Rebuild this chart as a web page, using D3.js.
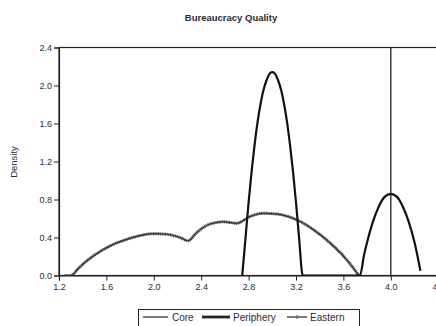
<!DOCTYPE html>
<html>
<head>
<meta charset="utf-8">
<script src="https://cdn.jsdelivr.net/npm/d3@7"></script>
<style>
  html, body { margin: 0; padding: 0; background: #fff; }
  svg { display: block; }
  text { font-family: "Liberation Sans", Arial, sans-serif; fill: #2b2b3a; }
</style>
</head>
<body>
<svg id="chart" width="436" height="326"></svg>
<script>
// Kernel density estimates of bureaucracy quality by country group
const title = "Bureaucracy Quality";
const yLabel = "Density";
const xTicks = [1.2, 1.6, 2.0, 2.4, 2.8, 3.2, 3.6, 4.0, 4.4];
const yTicks = [0.0, 0.4, 0.8, 1.2, 1.6, 2.0, 2.4];

const seriesNames = ["Core", "Periphery", "Eastern"];

// Core: every observation sits at 4.0, so the density is a spike
const coreX = [4.0, 4.0];
const coreY = [0.0, 2.4];

const peripheryX = [2.746, 2.775, 2.8, 2.825, 2.85, 2.875, 2.9, 2.925, 2.95, 2.975, 3.0,
  3.025, 3.05, 3.075, 3.1, 3.125, 3.15, 3.175, 3.2, 3.225, 3.257,
  3.5, 3.74, 3.775, 3.8, 3.85, 3.9, 3.95, 4.0, 4.05, 4.1, 4.15, 4.2, 4.25];
const peripheryY = [0.0, 0.41, 0.77, 1.09, 1.37, 1.61, 1.80, 1.95, 2.05, 2.12, 2.14,
  2.12, 2.05, 1.95, 1.80, 1.61, 1.37, 1.09, 0.77, 0.41, 0.0,
  0.0, 0.0, 0.22, 0.35, 0.57, 0.73, 0.83, 0.86, 0.83, 0.73, 0.57, 0.35, 0.05];

const easternX = [1.25, 1.30, 1.36, 1.43, 1.53, 1.645, 1.771, 1.884, 1.996, 2.11, 2.22, 2.29,
  2.36, 2.47, 2.59, 2.70, 2.81, 2.92, 3.04, 3.21, 3.35, 3.49, 3.63, 3.73];
const easternY = [0.0, 0.0, 0.07, 0.15, 0.24, 0.32, 0.38, 0.42, 0.44, 0.434, 0.40, 0.366,
  0.45, 0.54, 0.565, 0.55, 0.62, 0.655, 0.647, 0.584, 0.48, 0.34, 0.163, 0.0];

const svg = d3.select("#chart");
const mLeft = 59, mTop = 47.5, mBottom = 275.5, mRight = 438.2;

const x = d3.scaleLinear().domain([1.2, 4.4]).range([mLeft, mRight]);
const y = d3.scaleLinear().domain([0, 2.4]).range([mBottom, mTop]);

// frame
svg.append("rect")
  .attr("x", mLeft).attr("y", mTop)
  .attr("width", mRight - mLeft).attr("height", mBottom - mTop)
  .attr("fill", "none").attr("stroke", "#222").attr("stroke-width", 1.2);

// axes
const xAxis = svg.append("g")
  .attr("transform", `translate(0,${mBottom})`)
  .call(d3.axisBottom(x).tickValues(xTicks).tickFormat(d3.format(".1f")).tickSize(5).tickPadding(3));
const yAxis = svg.append("g")
  .attr("transform", `translate(${mLeft},0)`)
  .call(d3.axisLeft(y).tickValues(yTicks).tickFormat(d3.format(".1f")).tickSize(5).tickPadding(2));
[xAxis, yAxis].forEach(g => {
  g.select(".domain").attr("stroke", "#222").attr("stroke-width", 1.2);
  g.selectAll(".tick line").attr("stroke", "#222");
  g.selectAll(".tick text").style("font-size", "9px")
    .style("font-family", "'Liberation Sans', Arial, sans-serif").attr("fill", "#2b2b3a");
});

svg.append("defs").append("clipPath").attr("id", "plot")
  .append("rect").attr("x", mLeft).attr("y", mTop).attr("width", mRight - mLeft).attr("height", mBottom - mTop);

const line = d3.line().x(d => x(d[0])).y(d => y(d[1])).curve(d3.curveMonotoneX);
const plot = svg.append("g").attr("clip-path", "url(#plot)");

// Eastern: thin line carrying dense markers, reads as a grey beaded band
plot.append("path")
  .datum(d3.zip(easternX, easternY))
  .attr("d", line)
  .attr("fill", "none").attr("stroke", "#555").attr("stroke-width", 3)
  .attr("stroke-dasharray", "1.2 0.5").attr("stroke-linejoin", "round");
plot.append("path")
  .datum(d3.zip(easternX, easternY))
  .attr("d", line)
  .attr("fill", "none").attr("stroke", "#333").attr("stroke-width", 1.2);

// Periphery
plot.append("path")
  .datum(d3.zip(peripheryX, peripheryY))
  .attr("d", line)
  .attr("fill", "none").attr("stroke", "#111").attr("stroke-width", 2.2).attr("stroke-linejoin", "round");

// Core
plot.append("path")
  .datum(d3.zip(coreX, coreY))
  .attr("d", d3.line().x(d => x(d[0])).y(d => y(d[1])))
  .attr("fill", "none").attr("stroke", "#222").attr("stroke-width", 1.3);

// title and axis label
svg.append("text").attr("x", 231).attr("y", 21).attr("text-anchor", "middle")
  .style("font-size", "9.5px").style("font-weight", "bold").text(title);
svg.append("text").attr("transform", "translate(17,162) rotate(-90)").attr("text-anchor", "middle")
  .style("font-size", "9.5px").text(yLabel);

// legend
const lg = svg.append("g");
lg.append("rect").attr("x", 138.5).attr("y", 309.5).attr("width", 221).attr("height", 20)
  .attr("fill", "#fff").attr("stroke", "#222").attr("stroke-width", 1);
const items = [
  { x0: 143, x1: 168, tx: 172, w: 1.2, tick: false },
  { x0: 202, x1: 230, tx: 233, w: 2.8, tick: false },
  { x0: 287, x1: 307, tx: 310, w: 1.2, tick: true }
];
items.forEach((it, i) => {
  lg.append("line").attr("x1", it.x0).attr("x2", it.x1).attr("y1", 317).attr("y2", 317)
    .attr("stroke", "#222").attr("stroke-width", it.w);
  if (it.tick) {
    const mx = (it.x0 + it.x1) / 2;
    lg.append("line").attr("x1", mx).attr("x2", mx).attr("y1", 315).attr("y2", 319)
      .attr("stroke", "#555").attr("stroke-width", 1);
  }
  lg.append("text").attr("x", it.tx).attr("y", 320.5).style("font-size", "10px").text(seriesNames[i]);
});
</script>
</body>
</html>
